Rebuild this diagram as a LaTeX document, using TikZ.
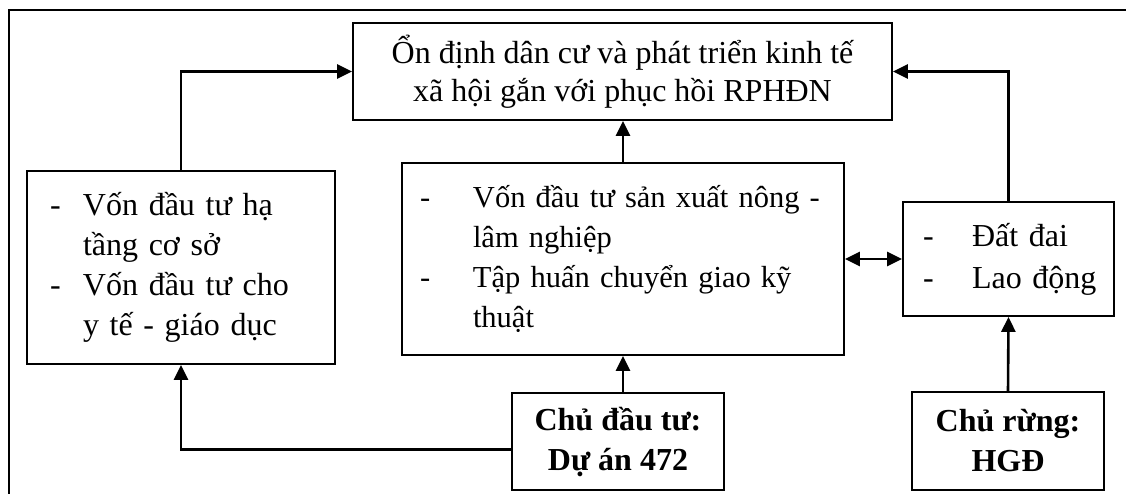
\documentclass[tikz,border=0pt]{standalone}
\usepackage{fontspec}
\setmainfont{Liberation Serif}
\usetikzlibrary{arrows.meta,calc}
\newcommand\itm[2]{\mbox{\makebox[#1][l]{-}#2}}
\newcommand\cnt[2]{\mbox{\hspace*{#1}#2}}
\begin{document}
\begin{tikzpicture}[x=1pt,y=-1pt,
  box/.style={draw,line width=1.8pt,inner sep=0pt,font=\fontsize{32}{40}\selectfont},
  arr/.style={line width=2.6pt,-{Triangle[length=15pt,width=14pt]}},
  darr/.style={line width=2.6pt,{Triangle[length=15pt,width=14pt]}-{Triangle[length=15pt,width=14pt]}}]
\useasboundingbox (0,0) rectangle (1126,494);
\draw[line width=2.4pt] (9,494) -- (9,10) -- (1126,10);
\node[box, minimum width=539pt, minimum height=97pt, align=center,
      font=\fontsize{32}{38}\selectfont] (top) at (622.5,71.5)
  {Ổn định dân cư và phát triển kinh tế\\xã hội gắn với phục hồi RPHĐN};
\node[box, minimum width=308pt, minimum height=193pt, inner xsep=23pt,
      text width=262pt, align=left] (lb) at (181,267.5)
  {\itm{33pt}{Vốn đầu tư hạ}\\\cnt{33pt}{tầng cơ sở}\\\itm{33pt}{Vốn đầu tư cho}\\\cnt{33pt}{y tế - giáo dục}};
\node[box, minimum width=442pt, minimum height=192pt, inner xsep=18pt,
      text width=406pt, align=left, font=\fontsize{30.5}{40}\selectfont] (mb) at (623,259)
  {\itm{53pt}{Vốn đầu tư sản xuất nông -}\\\cnt{53pt}{lâm nghiệp}\\\itm{53pt}{Tập huấn chuyển giao kỹ}\\\cnt{53pt}{thuật}};
\node[box, minimum width=211pt, minimum height=114pt, inner xsep=20pt,
      text width=171pt, align=left, font=\fontsize{32}{42}\selectfont] (rb) at (1008.5,259)
  {\itm{49pt}{Đất đai}\\\itm{49pt}{Lao động}};
\node[box, minimum width=212pt, minimum height=97pt, align=center,
      font=\fontsize{32}{40}\selectfont\bfseries] (bm) at (618,441.5)
  {Chủ đầu tư:\\Dự án 472};
\node[box, minimum width=192pt, minimum height=98pt, align=center,
      font=\fontsize{32}{40}\selectfont\bfseries] (br) at (1008,441)
  {Chủ rừng:\\HGĐ};
\draw[arr] (lb.north) |- (top.west);
\draw[arr] (rb.north) |- (top.east);
\draw[arr] (mb.north) -- (mb.north |- top.south);
\draw[darr] (mb.east) -- (mb.east -| rb.west);
\draw[arr] (bm.north -| mb.south) -- (mb.south);
\draw[arr] ([yshift=-8pt]bm.west) -| (lb.south);
\draw[arr] (br.north) -- (rb.south);
\end{tikzpicture}
\end{document}
